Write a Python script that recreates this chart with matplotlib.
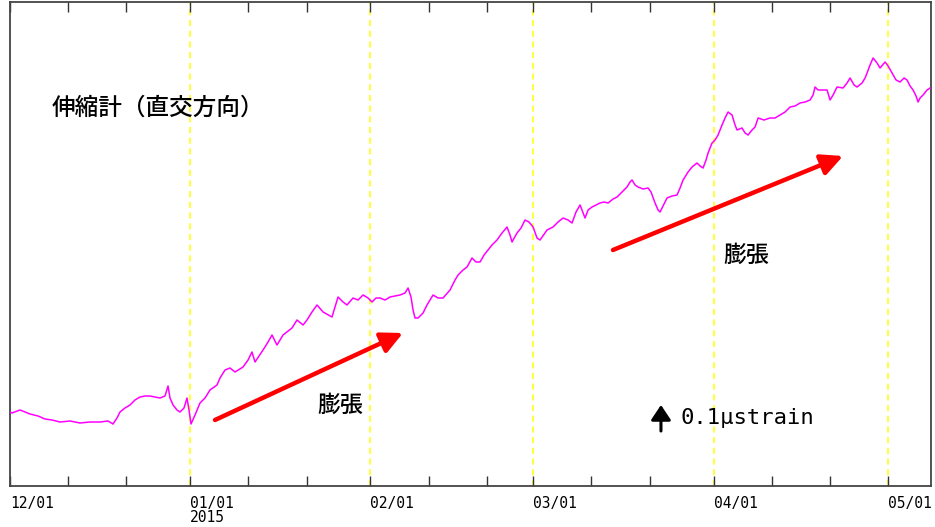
import numpy as np
import pandas as pd
import matplotlib
matplotlib.use('Agg')
import matplotlib.pyplot as plt
import matplotlib.dates as mdates

plt.rcParams['font.family'] = ['Noto Sans CJK JP', 'DejaVu Sans']

# days since 2014-12-01 and relative strain (arbitrary units)
days = [0, 0.34, 1.72, 3.44, 4.82, 6.02, 7.22, 8.6, 10.32, 12.04,
        13.76, 15.48, 16.86, 17.72, 18.4, 18.92, 19.78, 20.64, 21.5, 22.36,
        23.22, 24.08, 24.94, 25.8, 26.66, 27.18, 27.52, 28.04, 28.72, 29.24,
        29.93, 30.44, 30.79, 31.13, 31.82, 32.68, 33.54, 34.4, 35.6, 36.12,
        36.98, 37.84, 38.7, 40.08, 40.94, 41.62, 42.14, 43.52, 44.38, 45.06,
        45.92, 46.96, 48.5, 49.36, 50.4, 51.08, 51.94, 52.8, 53.84, 55.38,
        56.42, 57.28, 57.96, 59, 59.86, 60.72, 61.58, 62.26, 62.95, 63.64,
        64.5, 65.36, 66.22, 67.08, 67.94, 68.46, 68.97, 69.32, 69.66, 70.18,
        71.04, 71.72, 72.76, 73.62, 74.48, 75.68, 76.54, 77.06, 77.92, 78.6,
        79.46, 80.15, 80.84, 81.53, 82.22, 82.9, 83.76, 84.62, 85.48, 86,
        86.34, 87.2, 87.89, 88.58, 89.27, 89.96, 90.64, 91.16, 92.36, 93.4,
        94.26, 95.12, 95.98, 96.66, 97.35, 98.04, 98.9, 99.42, 100.1, 100.79,
        101.48, 102.17, 102.86, 103.72, 104.4, 105.26, 106.12, 106.64, 106.98, 107.5,
        108.02, 108.88, 109.74, 110.25, 110.94, 111.46, 111.8, 112.32, 113, 113.86,
        114.72, 115.24, 115.76, 116.62, 117.3, 118.16, 118.68, 119.2, 119.71, 120.06,
        120.74, 121.26, 121.78, 122.46, 122.98, 123.5, 124.18, 124.7, 125.04, 125.9,
        126.42, 126.94, 127.62, 128.14, 128.66, 129.69, 130.72, 131.58, 132.44, 133.3,
        134.16, 135.02, 135.88, 136.74, 137.6, 138.12, 138.46, 138.98, 139.66, 140.52,
        141.04, 141.56, 142.24, 143.28, 143.96, 144.48, 145.17, 145.68, 146.54, 147.06,
        147.4, 147.92, 148.44, 149.12, 149.64, 150.5, 151.02, 151.7, 152.39, 153.08,
        153.77, 154.28, 154.8, 155.32, 155.83, 156.18, 156.52, 157.04, 157.72, 158.24]
strain = [74, 73, 76, 72, 70, 67, 66, 64, 65, 63,
          64, 64, 65, 62, 68, 74, 78, 81, 86, 89,
          90, 90, 89, 88, 90, 100, 88, 81, 76, 74,
          78, 88, 76, 62, 71, 83, 88, 96, 101, 108,
          116, 118, 114, 119, 126, 134, 124, 136, 144, 151,
          141, 151, 158, 166, 161, 166, 174, 181, 174, 169,
          189, 184, 181, 188, 186, 191, 188, 184, 188, 188,
          186, 189, 190, 191, 193, 198, 189, 176, 168, 168,
          173, 181, 191, 188, 188, 196, 206, 211, 216, 219,
          228, 224, 224, 231, 236, 241, 246, 253, 259, 251,
          244, 253, 258, 266, 264, 259, 248, 246, 256, 259,
          264, 268, 266, 263, 274, 281, 268, 276, 279, 281,
          283, 284, 283, 287, 289, 294, 299, 304, 306, 301,
          299, 297, 298, 294, 283, 276, 274, 280, 288, 290,
          291, 298, 306, 314, 319, 323, 320, 318, 326, 333,
          343, 346, 351, 361, 368, 374, 371, 361, 356, 358,
          353, 351, 356, 359, 368, 366, 368, 368, 371, 374,
          379, 380, 383, 384, 386, 391, 399, 396, 396, 396,
          386, 391, 399, 398, 403, 408, 401, 399, 403, 408,
          413, 421, 428, 423, 418, 424, 420, 413, 406, 404,
          408, 406, 400, 396, 390, 384, 388, 391, 396, 398]

start = pd.Timestamp('2014-12-01')
end_days = 158.4
month_lines = ['2015-01-01', '2015-02-01', '2015-03-01', '2015-04-01', '2015-05-01']

t = start + pd.to_timedelta(days, unit='D')

fig = plt.figure(figsize=(9.35, 5.27), dpi=100)
ax = fig.add_axes([10/935, 41/527, 921/935, 484/527])

for d in month_lines:
    ax.axvline(pd.Timestamp(d), color='#ffff00', ls=(0, (4, 3)), lw=1.1, zorder=1)

ax.plot(t, strain, color='#ff00ff', lw=1.1, zorder=3)

ax.set_xlim(start, start + pd.Timedelta(days=end_days))
ax.set_ylim(0, 484)
ax.set_yticks([])

ax.xaxis.set_major_locator(mdates.MonthLocator())
ax.xaxis.set_minor_locator(mdates.DayLocator(bymonthday=[11, 21]))

def fmt(x, pos):
    d = mdates.num2date(x)
    s = d.strftime('%m/%d')
    if d.month == 1:
        s += '\n' + d.strftime('%Y')
    return s

ax.xaxis.set_major_formatter(plt.FuncFormatter(fmt))
ax.tick_params(axis='x', which='both', direction='in', top=True, length=7.5,
               width=1, color='#333333', pad=7)
for lab in ax.get_xticklabels():
    lab.set_fontfamily('DejaVu Sans Mono')
    lab.set_fontsize(10.5)
    lab.set_horizontalalignment('left')
    lab.set_linespacing(0.95)
for sp in ax.spines.values():
    sp.set_color('#444444')
    sp.set_linewidth(1.3)

ax.text(0.0456, 0.781, '伸縮計（直交方向）', transform=ax.transAxes,
        fontsize=17, va='center', ha='left', fontweight='medium')
ax.text(0.3583, 0.1674, '膨張', transform=ax.transAxes, fontsize=16.5,
        va='center', ha='center', fontweight='medium')
ax.text(0.7991, 0.4773, '膨張', transform=ax.transAxes, fontsize=16.5,
        va='center', ha='center', fontweight='medium')

arrow = dict(arrowstyle='-|>,head_length=0.65,head_width=0.32', color='#ff0000',
             lw=3.2, mutation_scale=20, shrinkA=0, shrinkB=0)
ax.annotate('', xy=(0.4267, 0.3161), xytext=(0.2226, 0.1364),
            xycoords='axes fraction', textcoords='axes fraction', arrowprops=arrow)
ax.annotate('', xy=(0.9045, 0.6818), xytext=(0.6547, 0.4876),
            xycoords='axes fraction', textcoords='axes fraction', arrowprops=arrow)

# scale marker
ax.annotate('', xy=(0.7068, 0.1674), xytext=(0.7068, 0.1136),
            xycoords='axes fraction', textcoords='axes fraction',
            arrowprops=dict(arrowstyle='-|>,head_length=0.45,head_width=0.3',
                            color='black', lw=2.2, mutation_scale=20,
                            shrinkA=0, shrinkB=0))
ax.text(0.7275, 0.1405, '0.1μstrain', transform=ax.transAxes,
        fontsize=16, family='DejaVu Sans Mono', va='center', ha='left')

fig.savefig('out.png', dpi=100)
